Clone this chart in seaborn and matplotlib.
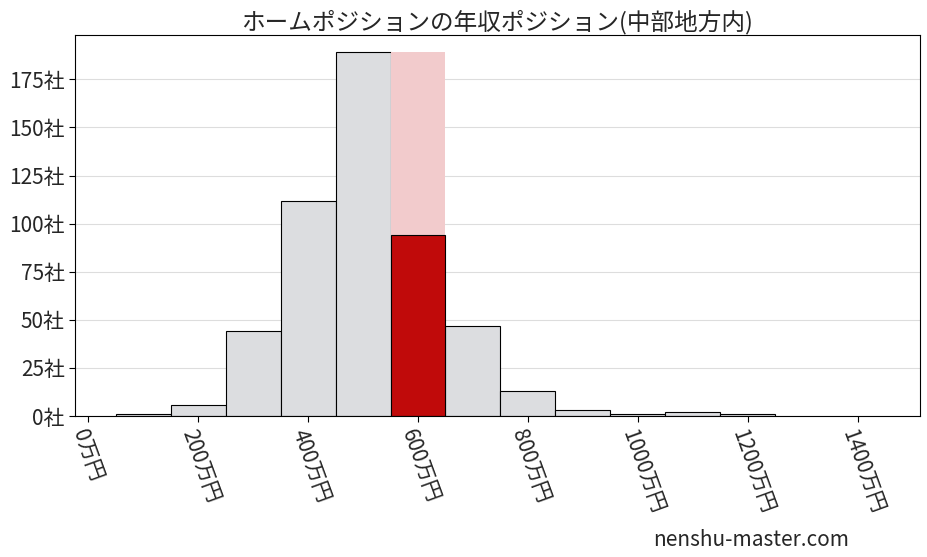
import matplotlib
matplotlib.use("Agg")
import matplotlib.pyplot as plt
import seaborn as sns
import numpy as np
import pandas as pd

bin_centers = [100, 200, 300, 400, 500, 600, 700, 800, 900, 1000, 1100, 1200]
counts = [1, 6, 44, 112, 189, 94, 47, 13, 3, 1, 2, 1]
highlight_center = 600
highlight_count = 94
highlight_full = 189
xticks = [0, 200, 400, 600, 800, 1000, 1200, 1400]
yticks = [0, 25, 50, 75, 100, 125, 150, 175]

sns.set_style("white")
plt.rcParams['font.family'] = ['Noto Sans CJK JP', 'DejaVu Sans']

fig, ax = plt.subplots(figsize=(9.28, 5.57), dpi=100)
edges = list(np.arange(50, 1251, 100))
others = [c if x != highlight_center else 0 for x, c in zip(bin_centers, counts)]
df = pd.DataFrame({"x": bin_centers, "w": others})
hf = pd.DataFrame({"x": [highlight_center], "w": [highlight_full]})
hc = pd.DataFrame({"x": [highlight_center], "w": [highlight_count]})
sns.histplot(data=df, x="x", weights="w", bins=edges, color="#dcdde0", edgecolor="black",
             linewidth=0.8, alpha=1, ax=ax)
sns.histplot(data=hf, x="x", weights="w", bins=[550, 650], color="#f2cbcc",
             edgecolor="none", alpha=1, ax=ax)
sns.histplot(data=hc, x="x", weights="w", bins=[550, 650], color="#c00a0a",
             edgecolor="black", linewidth=0.8, alpha=1, ax=ax)
ax.set_xlim(-24, 1513)
ax.set_ylim(0, 198)
ax.set_xticks(xticks)
ax.set_xticklabels([f"{v}万円" for v in xticks], rotation=-70, ha="left", rotation_mode="anchor", fontsize=15)
ax.set_yticks(yticks)
ax.set_yticklabels([f"{v}社" for v in yticks], fontsize=15)
ax.yaxis.grid(True, color="#dddddd", linewidth=0.8)
ax.set_axisbelow(True)
ax.set_xlabel("")
ax.set_ylabel("")
ax.tick_params(axis="both", length=4, color="black", bottom=True, left=True)
for s in ax.spines.values():
    s.set_color("black")
    s.set_linewidth(0.8)
ax.set_title("ホームポジションの年収ポジション(中部地方内)", fontsize=17, pad=4)
fig.subplots_adjust(left=0.081, right=0.991, top=0.937, bottom=0.253)
fig.text(0.915, 0.02, "nenshu-master.com", ha="right", fontsize=15)
fig.savefig("out.png")
